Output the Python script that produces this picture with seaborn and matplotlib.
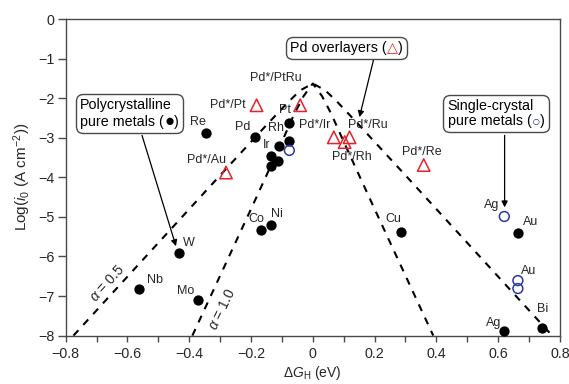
import numpy as np
import pandas as pd
import seaborn as sns
import matplotlib
matplotlib.use('Agg')
import matplotlib.pyplot as plt
from matplotlib.offsetbox import TextArea, HPacker, VPacker, AnnotationBbox

# --- data ---
poly_names = ['Re', 'Pd', 'Pt', 'Rh', 'Ir', '', '', '', 'W', 'Nb', 'Mo', 'Co', 'Ni',
              'Cu', 'Au', 'Ag', 'Bi']
poly_dg = [-0.346, -0.186, -0.076, -0.076, -0.111, -0.134, -0.112, -0.134, -0.432,
           -0.564, -0.373, -0.169, -0.134, 0.285, 0.664, 0.620, 0.742]
poly_logi = [-2.88, -2.99, -2.63, -3.07, -3.20, -3.45, -3.60, -3.71, -5.91,
             -6.81, -7.09, -5.33, -5.21, -5.38, -5.41, -7.88, -7.82]

single_names = ['', 'Ag', 'Au', '']
single_dg = [-0.076, 0.620, 0.664, 0.664]
single_logi = [-3.32, -4.99, -6.61, -6.81]

over_names = ['Pd*/Pt', 'Pd*/PtRu', 'Pd*/Au', 'Pd*/Ir', 'Pd*/Rh', 'Pd*/Ru', 'Pd*/Re']
over_dg = [-0.182, -0.041, -0.281, 0.068, 0.103, 0.119, 0.359]
over_logi = [-2.18, -2.18, -3.88, -2.99, -3.11, -2.99, -3.69]

# volcano curves (vertices)
a05_dg = [-0.775, -0.3, -0.15, -0.08, -0.04, 0.0, 0.04, 0.08, 0.15, 0.3, 0.775]
a05_logi = [-8.0, -3.95, -2.68, -2.1, -1.8, -1.63, -1.8, -2.1, -2.68, -3.95, -8.0]
a10_dg = [-0.39, -0.2, -0.1, -0.06, -0.03, 0.0, 0.03, 0.06, 0.1, 0.2, 0.39]
a10_logi = [-8.0, -4.8, -3.1, -2.4, -1.95, -1.63, -1.95, -2.4, -3.1, -4.8, -8.0]

# label offsets in pixels (style, not data)
poly_off = [(-8, 11), (-13, 10), (-4, 13), (-13, 13), (-12, 1), None, None, None,
            (9, 10), (16, 9), (-12, 9), (-4, 11), (6, 11), (-8, 13), (13, 11),
            (-11, 8), (1, 19)]
single_off = [None, (-13, 11), (11, 10), None]
over_off = [(-29, 0), (-24, 27), (-20, 13), (-19, 12), (7, -15), (18, 12), (-2, 13)]

FONT = ['Liberation Sans', 'DejaVu Sans']
sns.set_style('ticks')
plt.rcParams['font.family'] = FONT
plt.rcParams['mathtext.fontset'] = 'custom'
plt.rcParams['mathtext.rm'] = 'Liberation Sans'
plt.rcParams['mathtext.it'] = 'Liberation Sans:italic'
plt.rcParams['axes.unicode_minus'] = True

RED = '#e8202a'
BLUE = '#2b3a9c'
GREY = '#4a4a4a'

fig = plt.figure(figsize=(5.69, 3.84), dpi=100)
ax = fig.add_axes([0.1155, 0.126, 0.8685, 0.8245])

poly = pd.DataFrame({'dg': poly_dg, 'logi': poly_logi})
single = pd.DataFrame({'dg': single_dg, 'logi': single_logi})
over = pd.DataFrame({'dg': over_dg, 'logi': over_logi})

sns.lineplot(x=a05_dg, y=a05_logi, ax=ax, color='black', lw=1.5,
             linestyle=(0, (3.5, 3.5)), sort=False)
sns.lineplot(x=a10_dg, y=a10_logi, ax=ax, color='black', lw=1.5,
             linestyle=(0, (3.5, 3.5)), sort=False)

sns.scatterplot(data=poly, x='dg', y='logi', ax=ax, color='black', s=55,
                edgecolor='black', linewidth=0, zorder=3)
sns.scatterplot(data=single, x='dg', y='logi', ax=ax, s=50, facecolor='none',
                edgecolor=BLUE, linewidth=1.1, zorder=3)
sns.scatterplot(data=over, x='dg', y='logi', ax=ax, marker='^', s=80,
                facecolor='none', edgecolor=RED, linewidth=1.1, zorder=3)


def put_labels(names, xs, ys, offs):
    for n, x, y, o in zip(names, xs, ys, offs):
        if o is None or not n:
            continue
        ax.annotate(n, (x, y), xytext=o, textcoords='offset pixels',
                    ha='center', va='center', fontsize=9)


put_labels(poly_names, poly_dg, poly_logi, poly_off)
put_labels(single_names, single_dg, single_logi, single_off)
put_labels(over_names, over_dg, over_logi, over_off)

ax.text(-0.664, -6.67, r'$\alpha$ = 0.5', rotation=48, ha='center', va='center',
        fontsize=10)
ax.text(-0.292, -7.34, r'$\alpha$ = 1.0', rotation=64, ha='center', va='center',
        fontsize=10)


def boxed(lines, center):
    rows = []
    for parts in lines:
        kids = [TextArea(t, textprops=dict(fontsize=fs, color=c, family=FONT))
                for t, c, fs in parts]
        rows.append(HPacker(children=kids, pad=0, sep=0, align='baseline'))
    pack = VPacker(children=rows, pad=0, sep=1, align='left')
    ab = AnnotationBbox(pack, center, xycoords='data', frameon=True, pad=0.1,
                        bboxprops=dict(boxstyle='round,pad=0.3,rounding_size=0.5',
                                       fc='white', ec=GREY, lw=1.0), zorder=5)
    ax.add_artist(ab)


boxed([[('Polycrystalline', 'black', 10.3)],
       [('pure metals (', 'black', 10.3), ('\u25cf', 'black', 12),
        (')', 'black', 10.3)]],
      (-0.593, -2.39))
boxed([[('Pd overlayers (', 'black', 10.3), ('\u25b3', RED, 10.3),
        (')', 'black', 10.3)]],
      (0.109, -0.74))
boxed([[('Single-crystal', 'black', 10.3)],
       [('pure metals (', 'black', 10.3), ('\u25cb', BLUE, 10.3),
        (')', 'black', 10.3)]],
      (0.594, -2.39))

arrow = dict(arrowstyle='-|>', color='black', lw=0.9, mutation_scale=9,
             shrinkA=0, shrinkB=0)
ax.annotate('', xy=(-0.443, -5.74), xytext=(-0.553, -2.94), arrowprops=arrow, zorder=4)
ax.annotate('', xy=(0.151, -2.48), xytext=(0.197, -1.02), arrowprops=arrow, zorder=4)
ax.annotate('', xy=(0.621, -4.76), xytext=(0.621, -2.94), arrowprops=arrow, zorder=4)

ax.set_xlim(-0.8, 0.8)
ax.set_ylim(-8, 0)
ax.set_xticks(np.arange(-0.8, 0.81, 0.2))
ax.set_xticks(np.arange(-0.7, 0.8, 0.2), minor=True)
ax.set_yticks(np.arange(-8, 0.1, 1))
ax.set_xticklabels(['\u22120.8', '\u22120.6', '\u22120.4', '\u22120.2', '0', '0.2',
                    '0.4', '0.6', '0.8'])
ax.set_yticklabels(['\u22128', '\u22127', '\u22126', '\u22125', '\u22124', '\u22123',
                    '\u22122', '\u22121', '0'])
ax.tick_params(axis='both', which='both', direction='out', labelsize=10.3,
               color=GREY, width=1.0)
ax.tick_params(axis='x', which='both', length=4, pad=4)
ax.tick_params(axis='y', length=6, pad=2)
for sp in ax.spines.values():
    sp.set_color(GREY)
    sp.set_linewidth(1.0)

ax.set_xlabel(r'$\Delta G_{\rm H}$ (eV)', fontsize=10, labelpad=2)
ax.set_ylabel(r'Log($i_0$ (A cm$^{-2}$))', fontsize=11, labelpad=4)

fig.savefig('out.png', dpi=100)
